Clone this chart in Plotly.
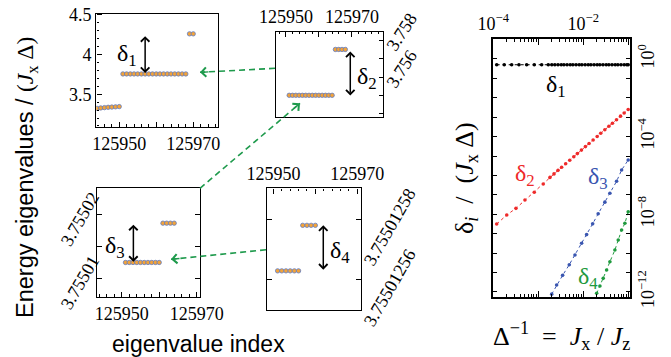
import plotly.graph_objects as go

W, H = 671, 357
OFF = 8  # page body margin of the written html page

# ---------------- data ----------------
# Panel A: spectrum around the level of interest (Delta^-1 = 0.1)
a_idx_low = [125944, 125945, 125946, 125947, 125948, 125949, 125950]
a_E_low = [3.322, 3.327, 3.331, 3.335, 3.338, 3.341, 3.344]
a_idx_mid = [125951, 125952, 125953, 125954, 125955, 125956, 125957, 125958, 125959,
             125960, 125961, 125962, 125963, 125964, 125965, 125966, 125967, 125968]
a_E_mid = [3.755, 3.755, 3.755, 3.755, 3.755, 3.755, 3.755, 3.755, 3.755,
           3.755, 3.755, 3.755, 3.755, 3.755, 3.755, 3.755, 3.755, 3.755]
a_idx_top = [125969, 125970]
a_E_top = [4.26, 4.26]

# Panel B: zoom on the 3.755 level
b_idx_low = [125951, 125952, 125953, 125954, 125955, 125956, 125957,
             125958, 125959, 125960, 125961, 125962, 125963, 125964]
b_E_low = [3.75501, 3.75501, 3.75501, 3.75501, 3.75501, 3.75501, 3.75501,
           3.75501, 3.75501, 3.75501, 3.75501, 3.75501, 3.75501, 3.75501]
b_idx_up = [125965, 125966, 125967, 125968]
b_E_up = [3.75749, 3.75749, 3.75749, 3.75749]

# Panel C: zoom on the lower group of B
c_idx_low = [125951, 125952, 125953, 125954, 125955, 125956, 125957, 125958, 125959, 125960]
c_E_low = [3.7550125, 3.7550125, 3.7550125, 3.7550125, 3.7550125,
           3.7550125, 3.7550125, 3.7550125, 3.7550125, 3.7550125]
c_idx_up = [125961, 125962, 125963, 125964]
c_E_up = [3.7550187, 3.7550187, 3.7550187, 3.7550187]

# Panel D: zoom on the lower group of C
d_idx_low = [125951, 125952, 125953, 125954, 125955, 125956]
d_E_low = [3.755012563, 3.755012563, 3.755012563, 3.755012563, 3.755012563, 3.755012563]
d_idx_up = [125957, 125958, 125959, 125960]
d_E_up = [3.755012578, 3.755012578, 3.755012578, 3.755012578]

# Panel E: gaps vs Delta^-1
d1_x = [1.19e-4, 1.75e-4, 2.56e-4, 3.72e-4, 5.52e-4, 8.15e-4, 1.19e-3, 1.67e-3,
        2.0e-3, 2.34e-3, 2.75e-3, 3.24e-3, 3.72e-3, 4.37e-3, 5.13e-3, 5.89e-3,
        6.92e-3, 8.13e-3, 9.33e-3, 1.10e-2, 1.29e-2, 1.48e-2, 1.74e-2, 2.04e-2,
        2.34e-2, 2.75e-2, 3.24e-2, 3.72e-2, 4.37e-2, 5.13e-2, 5.89e-2, 6.92e-2,
        8.13e-2, 9.33e-2, 0.1]
d1_y = [0.505, 0.505, 0.505, 0.505, 0.505, 0.505, 0.505, 0.505,
        0.505, 0.505, 0.505, 0.505, 0.505, 0.505, 0.505, 0.505,
        0.505, 0.505, 0.505, 0.505, 0.505, 0.505, 0.505, 0.505,
        0.505, 0.505, 0.505, 0.505, 0.505, 0.505, 0.505, 0.505,
        0.505, 0.505, 0.505]

d2_x = [1.19e-4, 1.99e-4, 3.19e-4, 5.06e-4, 8.15e-4, 1.29e-3,
        1.82e-3, 2.24e-3, 2.75e-3, 3.31e-3, 4.07e-3, 5.01e-3, 6.17e-3, 7.41e-3,
        9.12e-3, 1.12e-2, 1.35e-2, 1.66e-2, 2.04e-2, 2.45e-2, 3.02e-2, 3.72e-2,
        4.47e-2, 5.50e-2, 6.76e-2, 8.13e-2, 0.1]
d2_y = [3.13e-9, 9.10e-9, 2.01e-8, 5.40e-8, 1.35e-7, 3.61e-7,
        7.91e-7, 1.20e-6, 1.82e-6, 2.63e-6, 3.99e-6, 6.05e-6, 9.18e-6, 1.33e-5,
        2.02e-5, 3.05e-5, 4.43e-5, 6.71e-5, 1.02e-4, 1.48e-4, 2.24e-4, 3.40e-4,
        4.91e-4, 7.45e-4, 1.13e-3, 1.64e-3, 2.48e-3]

d3_x = [1.99e-3, 2.56e-3, 3.48e-3, 4.89e-3, 6.55e-3, 9.20e-3, 1.19e-2,
        1.62e-2, 2.15e-2, 3.03e-2, 3.92e-2, 5.52e-2, 7.13e-2, 0.1]
d3_y = [7.6e-13, 2.24e-12, 7.1e-12, 2.5e-11, 7.9e-11, 3.2e-10, 8.9e-10,
        3.2e-9, 1.05e-8, 4.2e-8, 1.2e-7, 5.0e-7, 1.9e-6, 6.2e-6]

d4_x = [1.99e-2, 2.35e-2, 2.78e-2, 3.31e-2, 3.92e-2, 5.06e-2, 6.0e-2, 7.13e-2, 8.45e-2, 0.1]
d4_y = [8.4e-13, 1.99e-12, 4.97e-12, 1.33e-11, 3.56e-11, 1.43e-10, 4.68e-10,
        1.53e-9, 3.40e-9, 1.35e-8]

# ticks and tick labels
idx_tickvals = [125950, 125960, 125970]
idx_ticktext = ["125950", "", "125970"]
a_ytickvals = [3.5, 4.0, 4.5]
a_yticktext = ["3.5", "4", "4.5"]
b_ytickvals = [3.756, 3.758]
b_yticktext = ["3.756", "3.758"]
b_yminor = [3.754, 3.755, 3.757]
c_ytickvals = [3.75501, 3.75502]
c_yticktext = ["3.75501", "3.75502"]
c_yminor = [3.755015]
d_ytickvals = [3.75501256, 3.75501258]
d_yticktext = ["3.75501256", "3.75501258"]
e_xtickvals = [1e-4, 1e-3, 1e-2, 1e-1]
e_xticktext = ["10<sup>−4</sup>", "", "10<sup>−2</sup>", ""]
e_xminor = [2e-4, 3e-4, 4e-4, 5e-4, 6e-4, 7e-4, 8e-4, 9e-4,
            2e-3, 3e-3, 4e-3, 5e-3, 6e-3, 7e-3, 8e-3, 9e-3,
            2e-2, 3e-2, 4e-2, 5e-2, 6e-2, 7e-2, 8e-2, 9e-2]
e_ytickvals = [1e-12, 1e-8, 1e-4, 1]
e_yticktext = ["10<sup>−12</sup>", "10<sup>−8</sup>", "10<sup>−4</sup>", "10<sup>0</sup>"]
e_yminor = [1e-11, 1e-10, 1e-9, 1e-7, 1e-6, 1e-5, 1e-3, 1e-2, 1e-1, 10]

# ---------------- styling ----------------
SERIF = "Liberation Serif"
SANS = "Liberation Sans"
ORANGE = "#f2a33a"
EDGE = "#5f7cc4"
GREEN = "#1e9a4c"
RED = "#ee2a2a"
BLUE = "#3a56b0"
DGREEN = "#1f9a3e"


def px(x):
    return (x - OFF) / W


def py(y):
    return 1 - (y - OFF) / H


def dx(x0, x1):
    return [px(x0), px(x1)]


def dy(y0, y1):
    return [py(y1), py(y0)]


fig = go.Figure()

mk = dict(size=4.4, color=ORANGE, line=dict(color=EDGE, width=0.8))


def level(x, y, xa, ya):
    fig.add_trace(go.Scatter(x=x, y=y, mode="markers", marker=mk, xaxis=xa, yaxis=ya,
                             showlegend=False, hoverinfo="skip", cliponaxis=True))


level(a_idx_low, a_E_low, "x", "y")
level(a_idx_mid, a_E_mid, "x", "y")
level(a_idx_top, a_E_top, "x", "y")
level(b_idx_low, b_E_low, "x2", "y2")
level(b_idx_up, b_E_up, "x2", "y2")
level(c_idx_low, c_E_low, "x3", "y3")
level(c_idx_up, c_E_up, "x3", "y3")
level(d_idx_low, d_E_low, "x4", "y4")
level(d_idx_up, d_E_up, "x4", "y4")


def gap(x, y, col):
    fig.add_trace(go.Scatter(x=x, y=y, mode="lines+markers", xaxis="x5", yaxis="y5",
                             line=dict(color=col, width=1, dash="dot"),
                             marker=dict(size=3.6, color=col),
                             showlegend=False, hoverinfo="skip"))


gap(d1_x, d1_y, "black")
gap(d2_x, d2_y, RED)
gap(d3_x, d3_y, BLUE)
gap(d4_x, d4_y, DGREEN)

tickfont = dict(family=SERIF, size=18, color="black")
base = dict(showline=True, linecolor="black", linewidth=1.4, ticks="inside",
            tickcolor="black", tickwidth=1, showgrid=False, zeroline=False,
            automargin=False, tickfont=tickfont, fixedrange=True,
            ticklabeloverflow="allow")
idx_minor = dict(ticks="inside", dtick=2, tick0=125950, ticklen=2.5, tickcolor="black")

layout = dict(
    width=W, height=H, margin=dict(l=0, r=0, t=0, b=0),
    paper_bgcolor="white", plot_bgcolor="white", showlegend=False,
    # Panel A
    xaxis=dict(base, domain=dx(96.3, 218), range=[125943.8, 125976.7], anchor="y",
               side="bottom", mirror=True, tickmode="array", tickvals=idx_tickvals,
               ticktext=idx_ticktext, ticklen=5, minor=idx_minor),
    yaxis=dict(base, domain=dy(13.5, 127), range=[3.087, 4.516], anchor="x",
               side="left", mirror=True, tickmode="array", tickvals=a_ytickvals,
               ticktext=a_yticktext, ticklen=5,
               minor=dict(ticks="inside", dtick=0.1, tick0=3.5, ticklen=2.5, tickcolor="black")),
    # Panel B
    xaxis2=dict(base, domain=dx(276, 383.3), range=[125947.0, 125979.5], anchor="y2",
                side="top", mirror=True, tickmode="array", tickvals=idx_tickvals,
                ticktext=idx_ticktext, ticklen=5, minor=idx_minor),
    yaxis2=dict(base, domain=dy(31.7, 117.3), range=[3.75382, 3.75845], anchor="x2",
                side="right", mirror=True, tickmode="array", tickvals=b_ytickvals,
                ticktext=b_yticktext, ticklen=4, tickangle=-57, ticklabelshift=10,
                minor=dict(ticks="inside", tickvals=b_yminor, ticklen=4, tickcolor="black")),
    # Panel C
    xaxis3=dict(base, domain=dx(96.7, 200), range=[125943.3, 125970.9], anchor="y3",
                side="bottom", mirror=True, tickmode="array", tickvals=idx_tickvals,
                ticktext=idx_ticktext, ticklen=5, minor=idx_minor),
    yaxis3=dict(base, domain=dy(188.3, 296.7), range=[3.7550071, 3.7550242], anchor="x3",
                side="left", mirror="ticks", tickmode="array", tickvals=c_ytickvals,
                ticktext=c_yticktext, ticklen=5, tickangle=-60, ticklabelshift=-20,
                minor=dict(ticks="inside", tickvals=c_yminor, ticklen=5, tickcolor="black")),
    # Panel D
    xaxis4=dict(base, domain=dx(266.7, 361), range=[125948.4, 125970.9], anchor="y4",
                side="top", mirror=True, tickmode="array", tickvals=idx_tickvals,
                ticktext=idx_ticktext, ticklen=5, minor=idx_minor),
    yaxis4=dict(base, domain=dy(188.3, 310), range=[3.7550125501, 3.7550125902], anchor="x4",
                side="right", mirror="ticks", tickmode="array", tickvals=d_ytickvals,
                ticktext=d_yticktext, ticklen=5, tickangle=-60, ticklabelshift=46),
    # Panel E
    xaxis5=dict(base, type="log", domain=dx(493.3, 630), range=[-4, -0.96], anchor="y5",
                side="top", mirror="ticks", tickmode="array", tickvals=e_xtickvals,
                ticktext=e_xticktext, ticklen=6, linewidth=1.8,
                minor=dict(ticks="inside", tickvals=e_xminor, ticklen=3, tickcolor="black")),
    yaxis5=dict(base, type="log", domain=dy(39, 296.7), range=[-12.25, 1.03], anchor="x5",
                side="right", mirror="ticks", tickmode="array", tickvals=e_ytickvals,
                ticktext=e_yticktext, ticklen=4, tickangle=-90, linewidth=1.8,
                minor=dict(ticks="inside", tickvals=e_yminor, ticklen=4, tickcolor="black")),
)
fig.update_layout(**layout)

annotations = []
shapes = []

# titles
annotations.append(dict(
    text="Energy eigenvalues / <span style=\"font-family:Liberation Serif\">(<i>J</i><sub>x</sub> Δ)</span>",
    xref="paper", yref="paper", x=px(27), y=py(178), textangle=-90, showarrow=False,
    font=dict(family=SANS, size=23.5, color="black"), xanchor="center", yanchor="middle"))
annotations.append(dict(
    text="eigenvalue index", xref="paper", yref="paper", x=px(199), y=py(344),
    showarrow=False, font=dict(family=SANS, size=23, color="black"),
    xanchor="center", yanchor="middle"))
annotations.append(dict(
    text="δ<sub><i>i</i></sub>  /  (<i>J</i><sub>x</sub> Δ)", xref="paper", yref="paper",
    x=px(466), y=py(178), textangle=-90, showarrow=False,
    font=dict(family=SERIF, size=26, color="black"), xanchor="center", yanchor="middle"))
annotations.append(dict(
    text="Δ<sup>−1</sup>  =  <i>J</i><sub>x</sub> / <i>J</i><sub>z</sub>", xref="paper", yref="paper",
    x=px(561), y=py(336), showarrow=False,
    font=dict(family=SERIF, size=26, color="black"), xanchor="center", yanchor="middle"))


# delta labels
def lab(t, x, y, col="black"):
    annotations.append(dict(text=t, xref="paper", yref="paper", x=px(x), y=py(y),
                            showarrow=False, font=dict(family=SERIF, size=24, color=col),
                            xanchor="center", yanchor="middle"))


lab("δ<sub>1</sub>", 127, 54.7)
lab("δ<sub>2</sub>", 366.7, 78)
lab("δ<sub>3</sub>", 114.7, 246.7)
lab("δ<sub>4</sub>", 339.7, 251.7)
lab("δ<sub>1</sub>", 556, 86)
lab("δ<sub>2</sub>", 525.3, 175, RED)
lab("δ<sub>3</sub>", 597.5, 177.5, BLUE)
lab("δ<sub>4</sub>", 587.5, 277.5, DGREEN)


# double arrows (data coordinates of each panel)
def darrow(xr, yr, x, y0, y1):
    annotations.append(dict(text="", xref=xr, yref=yr, axref=xr, ayref=yr,
                            x=x, y=y0, ax=x, ay=y1, showarrow=True,
                            arrowside="end+start", arrowhead=4, startarrowhead=4,
                            arrowsize=1.1, startarrowsize=1.1, arrowwidth=1.5,
                            arrowcolor="black", standoff=0, startstandoff=0))


darrow("x", "y", 125957, 3.767, 4.25)
darrow("x2", "y2", 125969.5, 3.75500, 3.75746)
darrow("x3", "y3", 125953.1, 3.7550126, 3.7550187)
darrow("x4", "y4", 125961.9, 3.7550125634, 3.7550125785)


# green dashed arrows
def garrow(x0, y0, x1, y1, ax, ay):
    shapes.append(dict(type="line", xref="paper", yref="paper", x0=px(x0), y0=py(y0),
                       x1=px(x1), y1=py(y1), line=dict(color=GREEN, width=1.6, dash="6px,4px")))
    annotations.append(dict(text="", xref="paper", yref="paper", x=px(x1), y=py(y1),
                            ax=ax, ay=ay, showarrow=True, arrowhead=4, arrowsize=1.2,
                            arrowwidth=1.5, arrowcolor=GREEN, standoff=0))


garrow(275, 68.3, 200, 72.3, 10, -0.5)
garrow(200, 188.3, 300, 103.3, -7.6, 6.5)
garrow(266, 249.8, 171, 259.3, 10, -1)

fig.update_layout(annotations=annotations, shapes=shapes)
fig.write_html("out.html")
